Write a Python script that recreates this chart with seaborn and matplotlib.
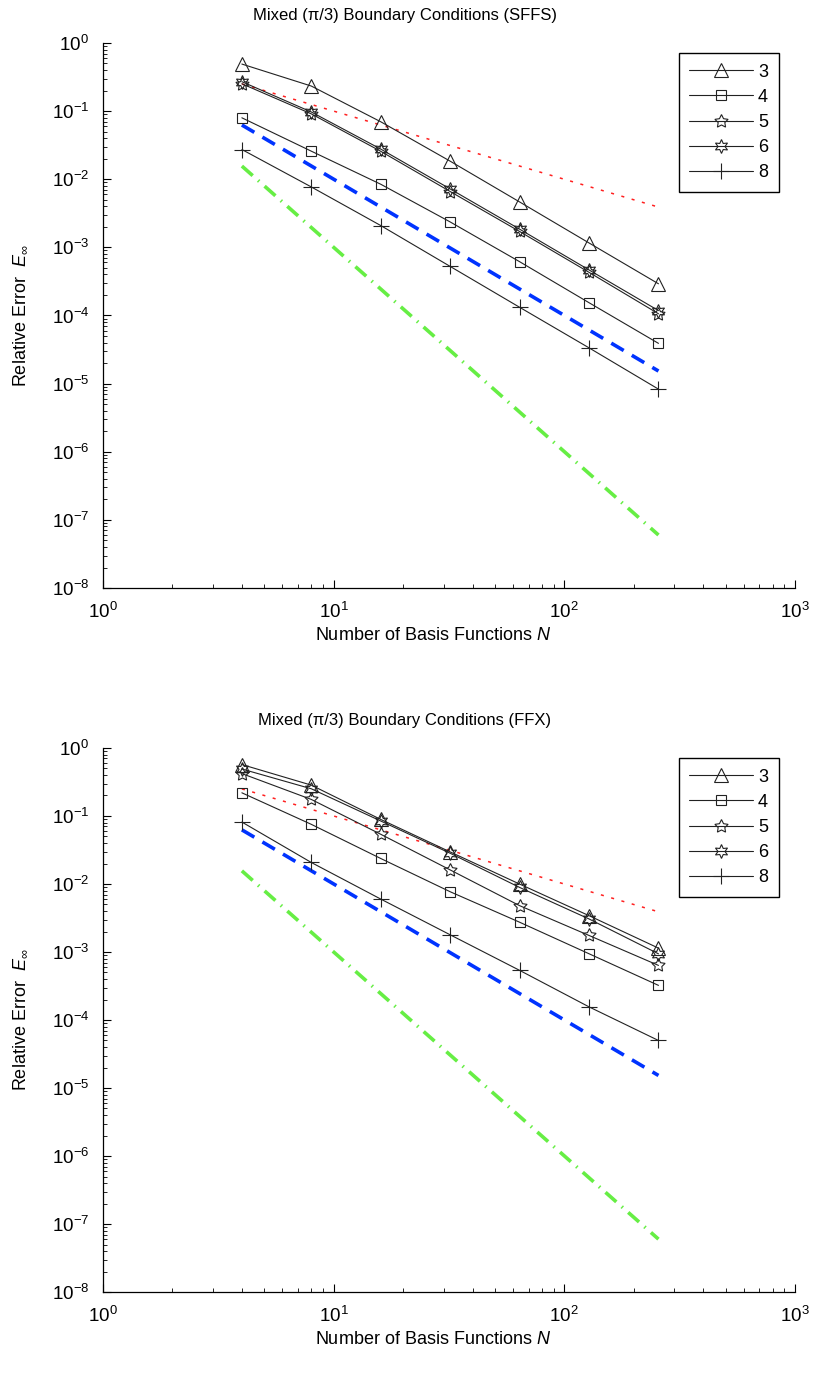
import numpy as np
import matplotlib
matplotlib.use("Agg")
import matplotlib.pyplot as plt
from matplotlib.ticker import LogLocator, NullFormatter
import seaborn as sns

# number of basis functions
N = [4, 8, 16, 32, 64, 128, 256]
N_ends = [4, 256]

# top panel: SFFS
sffs_3 = [0.49, 0.233, 0.0697, 0.0184, 0.00464, 0.00116, 0.000292]
sffs_4 = [0.0797, 0.0258, 0.00844, 0.00236, 0.000616, 0.000154, 0.000039]
sffs_5 = [0.252, 0.091, 0.0257, 0.0066, 0.00171, 0.00043, 0.000106]
sffs_6 = [0.270, 0.097, 0.0277, 0.0072, 0.00185, 0.000466, 0.000118]
sffs_8 = [0.0273, 0.0077, 0.00209, 0.000525, 0.000132, 0.0000335, 0.0000083]

# bottom panel: FFX
ffx_3 = [0.57, 0.284, 0.089, 0.0296, 0.00997, 0.00342, 0.00114]
ffx_4 = [0.219, 0.0753, 0.0237, 0.00769, 0.00274, 0.000942, 0.000323]
ffx_5 = [0.42, 0.175, 0.0538, 0.0161, 0.0048, 0.00175, 0.000635]
ffx_6 = [0.49, 0.251, 0.0843, 0.0283, 0.0089, 0.00306, 0.00094]
ffx_8 = [0.0814, 0.0207, 0.006, 0.00179, 0.000537, 0.000156, 0.00005]

# reference slopes (end points)
ref_red = [0.25, 0.0039]
ref_blue = [0.0625, 0.0000153]
ref_green = [0.0156, 0.0000000600]

labels = ["3", "4", "5", "6", "8"]
markers = ["^", "s", (5, 1, 0), (6, 1, 0), "+"]
msizes = [9.5, 7.5, 10, 10, 11]

sns.set_style("ticks")
plt.rcParams["font.family"] = ["Liberation Sans", "DejaVu Sans"]
plt.rcParams["mathtext.fontset"] = "custom"
plt.rcParams["mathtext.rm"] = "Liberation Sans"
plt.rcParams["mathtext.it"] = "Liberation Sans:italic"
plt.rcParams["text.color"] = "black"
plt.rcParams["axes.labelcolor"] = "black"
plt.rcParams["xtick.color"] = "black"
plt.rcParams["ytick.color"] = "black"

fig = plt.figure(figsize=(8.15, 13.81), dpi=100)
ax1 = fig.add_axes([0.1264, 0.5742, 0.849, 0.3947])
ax2 = fig.add_axes([0.1264, 0.0644, 0.849, 0.3940])


def draw_panel(ax, series, title):
    # reference lines
    sns.lineplot(x=N_ends, y=ref_red, ax=ax, color="#ff2020", linewidth=1.1,
                 linestyle=(0, (2, 5)))
    sns.lineplot(x=N_ends, y=ref_blue, ax=ax, color="#0033ff", linewidth=2.6,
                 linestyle=(0, (4, 2.6)))
    sns.lineplot(x=N_ends, y=ref_green, ax=ax, color="#66ee44", linewidth=2.6,
                 linestyle=(0, (4, 2, 0.4, 2)))

    for vals, lab, m, ms in zip(series, labels, markers, msizes):
        sns.lineplot(x=N, y=vals, ax=ax, color="#222222", linewidth=0.8,
                     marker=m, markersize=ms, markerfacecolor="none",
                     markeredgecolor="#222222", markeredgewidth=0.8, label=lab)

    ax.set_xscale("log")
    ax.set_yscale("log")
    ax.set_xlim(1, 1000)
    ax.set_ylim(1e-8, 1)
    ax.xaxis.set_major_locator(LogLocator(base=10, numticks=20))
    ax.yaxis.set_major_locator(LogLocator(base=10, numticks=20))
    ax.xaxis.set_minor_locator(LogLocator(base=10, subs=np.arange(2, 10), numticks=100))
    ax.yaxis.set_minor_locator(LogLocator(base=10, subs=np.arange(2, 10), numticks=100))
    ax.xaxis.set_minor_formatter(NullFormatter())
    ax.yaxis.set_minor_formatter(NullFormatter())
    ax.tick_params(which="both", bottom=True, left=True, top=False, right=False)
    ax.tick_params(which="major", direction="in", length=6, width=0.8,
                   labelsize=13.5, pad=10, color="black")
    ax.tick_params(which="minor", direction="in", length=3, width=0.6, color="black")

    sns.despine(ax=ax)
    for s in ["left", "bottom"]:
        ax.spines[s].set_color("black")
        ax.spines[s].set_linewidth(0.9)

    ax.set_title(title, x=0.436, y=1.051, va="center", pad=0, fontsize=12)
    ax.set_xlabel("Number of Basis Functions $N$", fontsize=13)
    ax.set_ylabel("Relative Error  $E_{\\infty}$", fontsize=13)
    ax.xaxis.set_label_coords(0.477, -0.072)
    ax.yaxis.set_label_coords(-0.107, 0.5)

    handles, labs = ax.get_legend_handles_labels()
    keep = [(h, l) for h, l in zip(handles, labs) if l in labels]
    ax.legend([h for h, l in keep], [l for h, l in keep], loc="upper right",
              bbox_to_anchor=(0.977, 0.982), borderaxespad=0, frameon=True,
              fancybox=False, edgecolor="black", framealpha=1, fontsize=13,
              handlelength=3.5, handletextpad=0.3, labelspacing=0.45,
              borderpad=0.6)
    ax.get_legend().get_frame().set_linewidth(1.0)


draw_panel(ax1, [sffs_3, sffs_4, sffs_5, sffs_6, sffs_8],
           "Mixed (π/3) Boundary Conditions (SFFS)")
draw_panel(ax2, [ffx_3, ffx_4, ffx_5, ffx_6, ffx_8],
           "Mixed (π/3) Boundary Conditions (FFX)")

fig.savefig("out.png", dpi=100)
